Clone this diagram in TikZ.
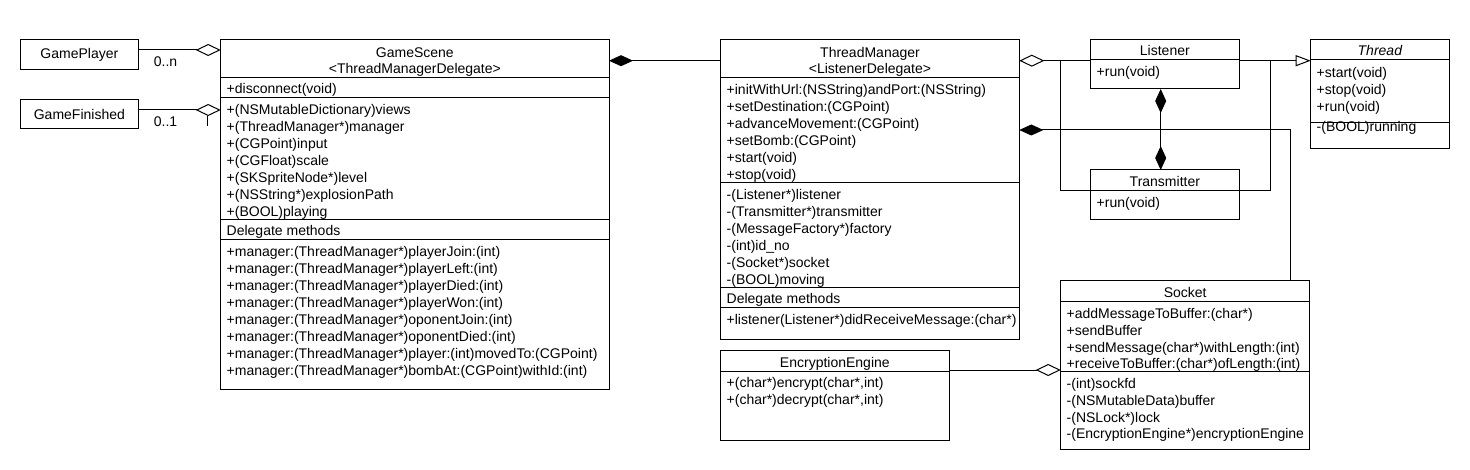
\documentclass[tikz,border=0pt]{standalone}
\usepackage{fontspec}
\setmainfont{Liberation Sans}
\usetikzlibrary{arrows.meta}
\newcommand\fs{\fontsize{14}{17}\selectfont}
\begin{document}
\begin{tikzpicture}[x=1pt,y=-1pt,line width=1pt,
  box/.style={draw,anchor=north west,inner sep=0pt,outer sep=0pt},
  sbox/.style={box,font=\fs},
  txt/.style={anchor=base west,inner sep=0pt,font=\fs},
  ctr/.style={anchor=base,inner sep=0pt,font=\fs},
  aggr/.style={-{Diamond[open,length=25pt,width=12pt]}},
  comp/.style={-{Diamond[length=24pt,width=11pt]}},
  gen/.style={-{Triangle[open,length=15pt,width=11pt]}},
  bothcomp/.style={{Diamond[length=24pt,width=11pt]}-{Diamond[length=24pt,width=11pt]}}]
\fill[white] (0,0) rectangle (1470,470);
\useasboundingbox (0,0) rectangle (1470,470);

% ---------- small boxes
\node[sbox,minimum width=117.3pt,minimum height=29.5pt] (gp) at (20.7,40) {GamePlayer};
\node[sbox,minimum width=117.3pt,minimum height=28.5pt] (gf) at (20.7,100) {GameFinished};

% ---------- GameScene
\node[box,minimum width=388.3pt,minimum height=349pt] (gs) at (220.7,40) {};
\foreach \yy in {77.3,97.7,219.3,239.3} \draw (gs.west |- 0,\yy) -- (gs.east |- 0,\yy);
\node[ctr] (gsT1) at (gs.north |- 0,57.3) {GameScene};
\node[ctr] (gsT2) at (gs.north |- 0,73.3) {<ThreadManagerDelegate>};
\node[txt] (gsD) at (226.2,93.3) {+disconnect(void)};
\foreach \t [count=\i from 0] in {+(NSMutableDictionary)views,+(ThreadManager*)manager,+(CGPoint)input,+(CGFloat)scale,+(SKSpriteNode*)level,+(NSString*)explosionPath,+(BOOL)playing}
  \node[txt] (gsA\i) at (226.2,114.7+17*\i) {\t};
\node[txt] (gsL) at (226.2,236) {Delegate methods};
\foreach \t [count=\i from 0] in {+manager:(ThreadManager*)playerJoin:(int),+manager:(ThreadManager*)playerLeft:(int),+manager:(ThreadManager*)playerDied:(int),+manager:(ThreadManager*)playerWon:(int),+manager:(ThreadManager*)oponentJoin:(int),+manager:(ThreadManager*)oponentDied:(int),+manager:(ThreadManager*)player:(int)movedTo:(CGPoint),+manager:(ThreadManager*)bombAt:(CGPoint)withId:(int)}
  \node[txt] (gsM\i) at (226.2,256.3+17*\i) {\t};

% ---------- ThreadManager
\node[box,minimum width=298.6pt,minimum height=299.3pt] (tm) at (720.7,40) {};
\foreach \yy in {77.3,182.7,287.3,307.7} \draw (tm.west |- 0,\yy) -- (tm.east |- 0,\yy);
\node[ctr] (tmT1) at (tm.north |- 0,57.3) {ThreadManager};
\node[ctr] (tmT2) at (tm.north |- 0,73.3) {<ListenerDelegate>};
\foreach \t [count=\i from 0] in {+initWithUrl:(NSString)andPort:(NSString),+setDestination:(CGPoint),+advanceMovement:(CGPoint),+setBomb:(CGPoint),+start(void),+stop(void)}
  \node[txt] (tmM\i) at (726.2,94.7+17*\i) {\t};
\foreach \t [count=\i from 0] in {-(Listener*)listener,-(Transmitter*)transmitter,-(MessageFactory*)factory,-(int)id\_no,-(Socket*)socket,-(BOOL)moving}
  \node[txt] (tmA\i) at (726.2,199.7+17*\i) {\t};
\node[txt] (tmL) at (726.2,304) {Delegate methods};
\node[txt] (tmD) at (726.2,324.5) {+listener(Listener*)didReceiveMessage:(char*)};

% ---------- EncryptionEngine
\node[box,minimum width=228.3pt,minimum height=89.3pt] (ee) at (720.7,350.7) {};
\draw (ee.west |- 0,371) -- (ee.east |- 0,371);
\node[ctr] (eeT) at (ee.north |- 0,367) {EncryptionEngine};
\node[txt] (eeM0) at (726.2,387.3) {+(char*)encrypt(char*,int)};
\node[txt] (eeM1) at (726.2,404) {+(char*)decrypt(char*,int)};

% ---------- Socket
\node[box,minimum width=249pt,minimum height=168.3pt] (so) at (1060.7,280.7) {};
\foreach \yy in {301.7,371.7} \draw (so.west |- 0,\yy) -- (so.east |- 0,\yy);
\node[ctr] (soT) at (so.north |- 0,297.3) {Socket};
\foreach \t [count=\i from 0] in {+addMessageToBuffer:(char*),+sendBuffer,+sendMessage(char*)withLength:(int),+receiveToBuffer:(char*)ofLength:(int)}
  \node[txt] (soM\i) at (1066.2,318.7+16.7*\i) {\t};
\foreach \t [count=\i from 0] in {-(int)sockfd,-(NSMutableData)buffer,-(NSLock*)lock,-(EncryptionEngine*)encryptionEngine}
  \node[txt] (soA\i) at (1066.2,388.7+16.7*\i) {\t};

% ---------- Listener / Transmitter
\node[box,minimum width=148.3pt,minimum height=49pt] (li) at (1090.7,40) {};
\draw (li.west |- 0,60) -- (li.east |- 0,60);
\node[ctr] (liT) at (li.north |- 0,56) {Listener};
\node[txt] (liM) at (1096.2,76.7) {+run(void)};
\node[box,minimum width=148.3pt,minimum height=49.3pt] (tr) at (1090.7,170) {};
\draw (tr.west |- 0,190.7) -- (tr.east |- 0,190.7);
\node[ctr] (trT) at (tr.north |- 0,186.7) {Transmitter};
\node[txt] (trM) at (1096.2,207.5) {+run(void)};

% ---------- Thread
\node[box,minimum width=138.3pt,minimum height=109pt] (th) at (1310.7,40) {};
\foreach \yy in {60,122.7} \draw (th.west |- 0,\yy) -- (th.east |- 0,\yy);
\node[ctr] (thT) at (th.north |- 0,56) {\itshape Thread};
\foreach \t [count=\i from 0] in {+start(void),+stop(void),+run(void)}
  \node[txt] (thM\i) at (1316.2,77.5+17*\i) {\t};
\node[txt] (thA) at (1316.2,132) {-(BOOL)running};

% ---------- connectors
\draw[aggr] (gp.east |- 0,50) -- (gs.west |- 0,50);
\node[ctr] (lbn) at (165.5,66.7) {0..n};
\draw[aggr] (gf.east |- 0,110) -- (gs.west |- 0,110);
\node[ctr] (lb1) at (165.5,126.7) {0..1};
\coordinate (tick) at (207.7,116);
\draw (tick) -- ++(0,10);

\draw[comp] (tm.west |- 0,60.7) -- (gs.east |- 0,60.7);

\draw[aggr] (li.west |- 0,60.7) -- (tm.east |- 0,60.7);
\coordinate (jl) at (1060.7,60.7);
\draw (tr.west |- 0,190.7) -| (jl);

\draw[gen] (li.east |- 0,60.7) -- (th.west |- 0,60.7);
\coordinate (jr) at (1270.7,60.7);
\draw (tr.east |- 0,190.7) -| (jr);

\draw[bothcomp] (li.south -| 1160.7,0) -- (tr.north -| 1160.7,0);

\draw[comp] (so.north -| 1290.7,0) |- (tm.east |- 0,130);

\draw[aggr] (ee.east |- 0,370) -- (so.west |- 0,370);
\end{tikzpicture}
\end{document}
